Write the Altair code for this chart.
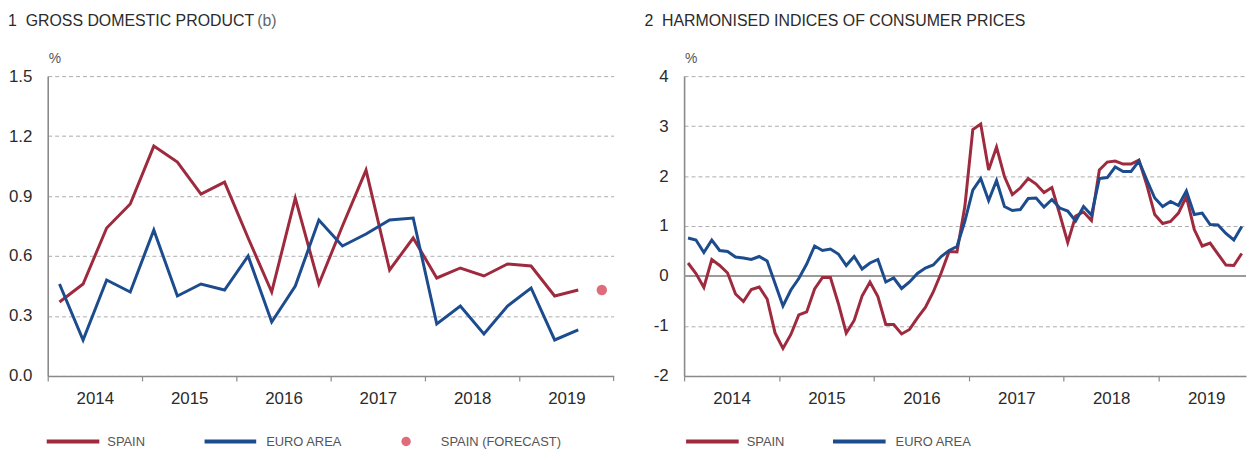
import altair as alt
import pandas as pd

# ---------------- data ----------------
gdp_years = [2014, 2015, 2016, 2017, 2018, 2019]
gdp_quarters = [f"{y}-Q{q}" for y in gdp_years for q in range(1, 5)][:23]
gdp_spain = [0.37, 0.46, 0.74, 0.86, 1.15, 1.07, 0.91, 0.97, 0.69, 0.42, 0.89, 0.46,
             0.75, 1.03, 0.53, 0.69, 0.49, 0.54, 0.50, 0.56, 0.55, 0.40, 0.43]
gdp_euro = [0.46, 0.18, 0.48, 0.42, 0.73, 0.40, 0.46, 0.43, 0.60, 0.27, 0.45, 0.78,
            0.65, 0.71, 0.78, 0.79, 0.26, 0.35, 0.21, 0.35, 0.44, 0.18, 0.23]
gdp_forecast_quarter = ["2019-Q4"]
gdp_forecast = [0.43]

hicp_months = [f"{y}-{m:02d}" for y in gdp_years for m in range(1, 13)][:71]
hicp_spain = [0.26, 0.05, -0.23, 0.33, 0.21, 0.06, -0.36, -0.51, -0.27, -0.22, -0.46, -1.14,
              -1.45, -1.17, -0.78, -0.72, -0.26, -0.03, -0.03, -0.55, -1.14, -0.89, -0.40, -0.12,
              -0.41, -0.97, -0.97, -1.16, -1.07, -0.84, -0.63, -0.32, 0.06, 0.49, 0.48, 1.40,
              2.93, 3.04, 2.12, 2.58, 1.99, 1.63, 1.76, 1.95, 1.84, 1.67, 1.77, 1.23,
              0.67, 1.20, 1.28, 1.11, 2.12, 2.28, 2.30, 2.24, 2.24, 2.32, 1.82, 1.23,
              1.05, 1.09, 1.26, 1.59, 0.93, 0.60, 0.66, 0.44, 0.22, 0.21, 0.45]
hicp_euro = [0.76, 0.72, 0.47, 0.72, 0.51, 0.49, 0.38, 0.36, 0.33, 0.39, 0.30, -0.15,
             -0.60, -0.28, -0.05, 0.24, 0.60, 0.51, 0.54, 0.44, 0.21, 0.39, 0.14, 0.26,
             0.33, -0.12, -0.04, -0.25, -0.12, 0.05, 0.16, 0.22, 0.39, 0.51, 0.59, 1.10,
             1.72, 1.95, 1.51, 1.91, 1.39, 1.31, 1.33, 1.55, 1.56, 1.38, 1.53, 1.36,
             1.30, 1.10, 1.39, 1.22, 1.95, 1.97, 2.18, 2.09, 2.09, 2.30, 1.92, 1.56,
             1.39, 1.49, 1.41, 1.70, 1.23, 1.26, 1.03, 1.02, 0.85, 0.72, 0.99]

series_names = ["SPAIN", "EURO AREA"]
forecast_name = "SPAIN (FORECAST)"
gdp_ticks = [0.0, 0.3, 0.6, 0.9, 1.2, 1.5]
hicp_ticks = [-2, -1, 0, 1, 2, 3, 4]
year_ticks = [2014, 2015, 2016, 2017, 2018, 2019]
NB = "\u00a0"
title_gdp = "1" + NB * 2 + "GROSS DOMESTIC PRODUCT"
title_gdp_note = "(b)"
title_hicp = "2" + NB * 2 + "HARMONISED INDICES OF CONSUMER PRICES"

# ---------------- styling ----------------
RED = "#9e2a3e"
BLUE = "#1c4c8e"
PINK = "#e06b7b"
AXIS = "#8a8a8a"
GRID = "#ababab"
TXT = "#2b2b2b"
LEG = "#555555"
FONT = "Liberation Sans, Arial, sans-serif"
H = 302
LEG_Y = 368


def q_to_year(q):
    y, qq = q.split("-Q")
    return int(y) + (int(qq) - 0.5) / 4


def m_to_year(m):
    y, mm = m.split("-")
    return int(y) + (int(mm) - 0.5) / 12


def one():
    return alt.Data(values=[{"k": 0}])


def long_df(periods, conv, spain, euro):
    rows = []
    for p, s, e in zip(periods, spain, euro):
        rows.append({"t": conv(p), "v": s, "series": series_names[0]})
        rows.append({"t": conv(p), "v": e, "series": series_names[1]})
    return pd.DataFrame(rows)


def panel(df, width, xdomain, yticks, ydomain, yfmt, title, legend_items,
          forecast_df=None, zero_line=False, end_tick=None, note=None):
    half_year = width / (xdomain[1] - xdomain[0]) / 2
    xscale = alt.Scale(domain=xdomain, nice=False, zero=False)
    x = alt.X("t:Q", scale=xscale,
              axis=alt.Axis(values=year_ticks, title=None, grid=False,
                            labelExpr="'' + datum.value",
                            labelOffset=half_year, labelFlush=False, labelOverlap=False,
                            labelBound=False,
                            tickSize=5, tickColor=AXIS, tickWidth=1.2,
                            domainColor=AXIS, domainWidth=1.6,
                            labelFont=FONT, labelFontSize=17, labelColor=TXT,
                            labelPadding=10))
    y = alt.Y("v:Q", scale=alt.Scale(domain=ydomain, nice=False, zero=False),
              axis=alt.Axis(values=yticks, title=None, labelExpr=yfmt,
                            tickSize=0, labelPadding=16,
                            grid=True, gridDash=[4, 3], gridColor=GRID, gridWidth=1,
                            domainColor=AXIS, domainWidth=1.6,
                            labelFont=FONT, labelFontSize=17, labelColor=TXT))
    layers = []
    if zero_line:
        layers.append(alt.Chart(one()).mark_rule(color="#9a9a9a", strokeWidth=1.8)
                      .encode(y=alt.datum(0)))
    lines = alt.Chart(df).mark_line(strokeWidth=3, strokeJoin="miter").encode(
        x=x, y=y,
        color=alt.Color("series:N", scale=alt.Scale(domain=series_names, range=[RED, BLUE]),
                        legend=None),
        order=alt.Order("series:N", sort="ascending"),
    )
    layers.append(lines)
    if end_tick is not None:
        layers.append(alt.Chart(one()).mark_rule(color=AXIS, strokeWidth=1.2)
                      .encode(x=alt.datum(end_tick), y=alt.value(H), y2=alt.value(H + 5)))
    if forecast_df is not None:
        layers.append(alt.Chart(forecast_df).mark_circle(size=110, color=PINK, opacity=1)
                      .encode(x="t:Q", y="v:Q"))
    # titles and unit
    layers.append(alt.Chart(one()).mark_text(align="left", baseline="top",
                                             font=FONT, fontSize=16, color=TXT)
                  .encode(x=alt.value(-40), y=alt.value(-63), text=alt.value(title)))
    if note is not None:
        text, nx = note
        layers.append(alt.Chart(one()).mark_text(align="left", baseline="top",
                                                 font=FONT, fontSize=16, color="#666666",
                                                 fontWeight=300)
                      .encode(x=alt.value(nx), y=alt.value(-63), text=alt.value(text)))
    layers.append(alt.Chart(one()).mark_text(align="left", baseline="alphabetic",
                                             font=FONT, fontSize=14, color=LEG)
                  .encode(x=alt.value(1), y=alt.value(-13), text=alt.value("%")))
    # legend
    for kind, label, x0, x1, tx, col in legend_items:
        if kind == "line":
            layers.append(alt.Chart(one()).mark_rule(color=col, strokeWidth=4)
                          .encode(x=alt.value(x0), x2=alt.value(x1), y=alt.value(LEG_Y)))
        else:
            layers.append(alt.Chart(one()).mark_circle(size=90, color=col, opacity=1)
                          .encode(x=alt.value(x0), y=alt.value(LEG_Y)))
        layers.append(alt.Chart(one()).mark_text(align="left", baseline="middle",
                                                 font=FONT, fontSize=13, color=LEG)
                      .encode(x=alt.value(tx), y=alt.value(LEG_Y + 1), text=alt.value(label)))
    return alt.layer(*layers).properties(width=width, height=H)


gdp_df = long_df(gdp_quarters, q_to_year, gdp_spain, gdp_euro)
fc_df = pd.DataFrame({"t": [q_to_year(q) for q in gdp_forecast_quarter], "v": gdp_forecast})
hicp_df = long_df(hicp_months, m_to_year, hicp_spain, hicp_euro)

left = panel(
    gdp_df, 570, [2014, 2020],
    gdp_ticks, [0, 1.5], "format(datum.value, '.1f')", title_gdp,
    [("line", series_names[0], -1, 52, 60, RED),
     ("line", series_names[1], 158, 210, 220, BLUE),
     ("dot", forecast_name, 361, None, 396, PINK)],
    forecast_df=fc_df, end_tick=2020, note=(title_gdp_note, 211),
)
right = panel(
    hicp_df, 566, [2014, 2019.92],
    hicp_ticks, [-2, 4], "'' + datum.value", title_hicp,
    [("line", series_names[0], 2, 55, 63, RED),
     ("line", series_names[1], 150, 203, 213, BLUE)],
    zero_line=True,
)

chart = alt.hconcat(left, right, spacing=30).properties(
    padding={"left": 0, "right": 0, "top": 4, "bottom": 0}
).configure_view(stroke=None)

chart.save("out.html", embed_options={"renderer": "svg", "actions": False})
